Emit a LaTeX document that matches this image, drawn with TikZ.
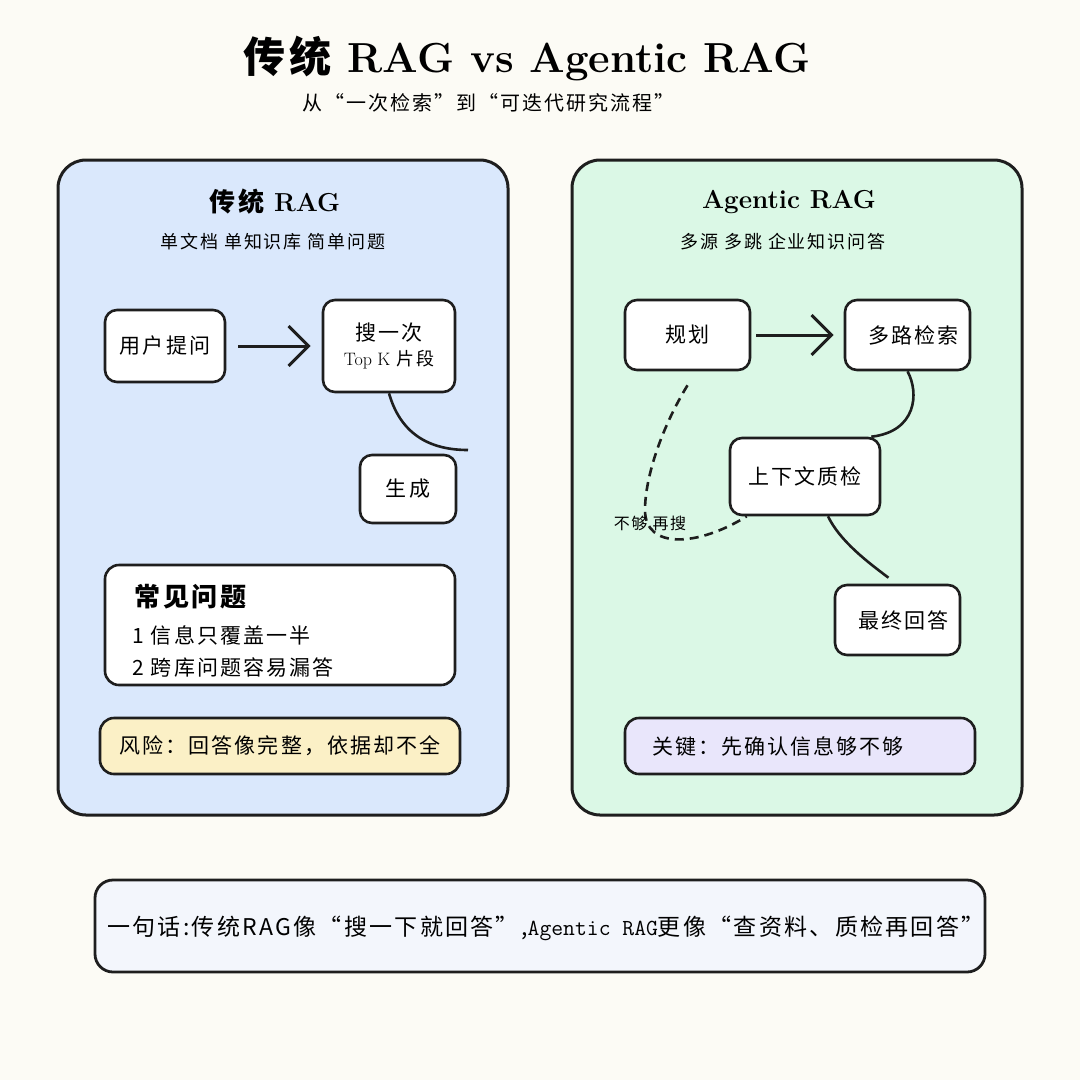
\documentclass[tikz,border=0pt]{standalone}
\usepackage{fontspec}
\newfontfamily\cjk[LetterSpace=10]{Noto Sans CJK SC}
\usetikzlibrary{arrows.meta,positioning}

\definecolor{paper}{HTML}{FCFBF5}
\definecolor{ink}{HTML}{1E1E1E}
\definecolor{bluepanel}{HTML}{DAE8FC}
\definecolor{greenpanel}{HTML}{DBF8E6}
\definecolor{riskfill}{HTML}{FBF0C6}
\definecolor{keyfill}{HTML}{E9E6FB}
\definecolor{sumfill}{HTML}{F3F6FC}

\newcommand{\fs}[1]{\fontsize{#1}{#1}\selectfont}

\tikzset{
  panel/.style={draw=ink, line width=3pt, rounded corners=28pt, inner sep=0pt},
  stepbox/.style={draw=ink, fill=white, line width=2.6pt, rounded corners=12pt,
    inner sep=0pt, align=center, font=\cjk\fs{21}},
  notebox/.style={draw=ink, line width=2.6pt, rounded corners=14pt, inner sep=0pt},
  flow/.style={draw=ink, line width=3pt, -{Straight Barb[length=20pt,width=40pt]}},
  link/.style={draw=ink, line width=2.6pt},
  retry/.style={draw=ink, line width=2.6pt, dash pattern=on 9pt off 6pt}
}

\begin{document}
\begin{tikzpicture}[x=1pt, y=-1pt]

  % Background
  \fill[paper] (0,0) rectangle (1080,1080);
  \useasboundingbox (0,0) rectangle (1080,1080);

  % Title
  \node (title) at (527,58) {\fs{42}\bfseries{\cjk 传统} RAG vs Agentic RAG};
  \node (subtitle) at (488,103) {\cjk\fs{20}从“一次检索”到“可迭代研究流程”};

  % Panels
  \node[panel, fill=bluepanel, minimum width=450pt, minimum height=655pt] (classic) at (283,487.5) {};
  \node[panel, fill=greenpanel, minimum width=450pt, minimum height=655pt] (agentic) at (797,487.5) {};

  \node (classictitle) at (275,202) {\fs{26}\bfseries{\cjk 传统} RAG};
  \node (classicsub) at (273,242) {\cjk\fs{18}单文档 单知识库 简单问题};
  \node (agentictitle) at (789,202) {\fs{26}\bfseries Agentic RAG};
  \node (agenticsub) at (783,242) {\cjk\fs{18}多源 多跳 企业知识问答};

  % Classic flow
  \node[stepbox, minimum width=120pt, minimum height=72pt] (ask) at (165,346) {用户提问};
  \node[stepbox, minimum width=132pt, minimum height=92pt] (search) at (389,346)
    {搜一次\\[4pt]{\fs{18}{\rmfamily Top K} 片段}};
  \node[stepbox, minimum width=96pt, minimum height=68pt] (gen) at (408,489) {生成};
  \coordinate (genend) at (468,450);

  \draw[flow, shorten <=12pt, shorten >=11pt] (ask) -- (search);
  \draw[link] (search.south) .. controls +(10,35) and +(-45,0) .. (genend);

  % Common problems
  \node[notebox, fill=white, minimum width=350pt, minimum height=120pt] (issues) at (280,625) {};
  \node[anchor=west] (issuehead) at (131,597) {\cjk\fs{26}\bfseries 常见问题};
  \node[anchor=west] (issueone) at (129,635) {\cjk\fs{21}1 信息只覆盖一半};
  \node[anchor=west] (issuetwo) at (129,667) {\cjk\fs{21}2 跨库问题容易漏答};

  \node[notebox, fill=riskfill, minimum width=360pt, minimum height=56pt] (risk) at (280,746)
    {\cjk\fs{21}风险：回答像完整，依据却不全};

  % Agentic flow
  \node[stepbox, minimum width=125pt, minimum height=70pt] (plan) at (687.5,335) {规划};
  \node[stepbox, minimum width=125pt, minimum height=70pt] (multi) at (907.5,335) {\hspace*{12pt}多路检索};
  \node[stepbox, minimum width=150pt, minimum height=77pt] (check) at (805,476.5) {上下文质检};
  \node[stepbox, minimum width=125pt, minimum height=70pt] (final) at (897.5,620) {\hspace*{12pt}最终回答};

  \draw[flow, shorten <=5pt, shorten >=10pt] (plan) -- (multi);
  \draw[link] (multi.south) .. controls +(12,22) and +(45,-5) .. ([xshift=-10pt]check.north east);
  \draw[link] ([xshift=23pt]check.south) .. controls +(12,25) and +(-20,-15) .. ([xshift=-9pt,yshift=6pt]final.north);
  \draw[retry] ([yshift=-14pt]plan.south) .. controls +(-28,46) and +(0,-30) .. (645,510)
    .. controls +(0,40) and +(-48,30) .. ([xshift=18pt]check.south west);
  \node (retrylabel) at (650,523) {\cjk\fs{16}不够 再搜};

  \node[notebox, fill=keyfill, minimum width=350pt, minimum height=56pt, text width=296pt,
    align=left, inner xsep=27pt] (key) at (800,746) {\cjk\fs{21}关键：先确认信息够不够};

  % Summary
  \node[notebox, fill=sumfill, line width=2.8pt, rounded corners=18pt, minimum width=890pt,
    minimum height=92pt] (summary) at (540,926) {};
  \node (summarytext) at (546,928)
    {\cjk\fs{23}一句话:传统RAG像“搜一下就回答”,{\ttfamily Agentic RAG}更像“查资料、质检再回答”};

\end{tikzpicture}
\end{document}
